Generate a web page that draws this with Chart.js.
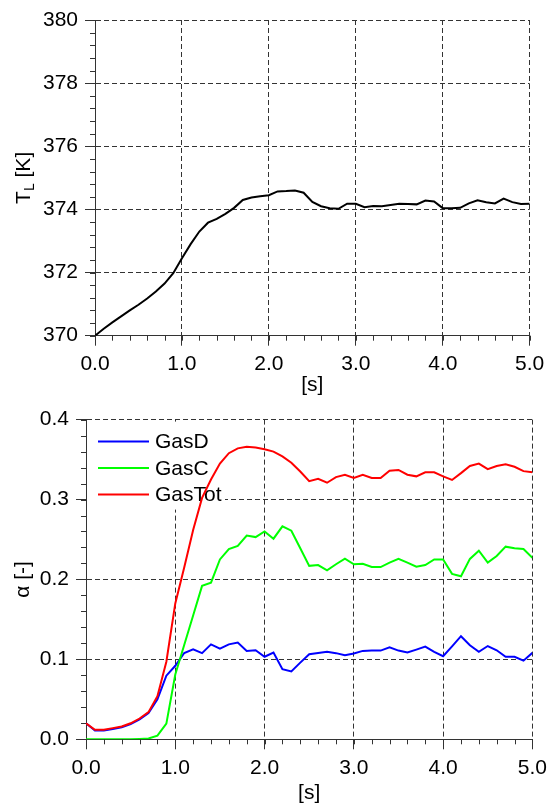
<!DOCTYPE html>
<html>
<head>
<meta charset="utf-8">
<script src="https://cdn.jsdelivr.net/npm/chart.js@4.4.0/dist/chart.umd.min.js"></script>
<style>
html, body { margin: 0; padding: 0; background: #fff; }
#wrap { position: relative; width: 553px; height: 806px; }
.box { position: absolute; left: 0; width: 553px; }
</style>
</head>
<body>
<div id="wrap">
  <div class="box" style="top:0;height:400px"><canvas id="tempChart" width="553" height="400"></canvas></div>
  <div class="box" style="top:400px;height:406px"><canvas id="gasChart" width="553" height="406"></canvas></div>
</div>
<script>
// time axis [s]
const times = [0.0, 0.1, 0.2, 0.3, 0.4, 0.5, 0.6, 0.7, 0.8, 0.9,
  1.0, 1.1, 1.2, 1.3, 1.4, 1.5, 1.6, 1.7, 1.8, 1.9,
  2.0, 2.1, 2.2, 2.3, 2.4, 2.5, 2.6, 2.7, 2.8, 2.9,
  3.0, 3.1, 3.2, 3.3, 3.4, 3.5, 3.6, 3.7, 3.8, 3.9,
  4.0, 4.1, 4.2, 4.3, 4.4, 4.5, 4.6, 4.7, 4.8, 4.9, 5.0];

// liquid temperature T_L [K]
const tempL = [370.00, 370.22, 370.42, 370.61, 370.80, 370.98, 371.18, 371.40, 371.65, 371.98,
  372.45, 372.90, 373.30, 373.58, 373.70, 373.86, 374.05, 374.30, 374.38, 374.42,
  374.45, 374.57, 374.58, 374.60, 374.53, 374.24, 374.10, 374.04, 374.02, 374.18,
  374.18, 374.07, 374.11, 374.10, 374.14, 374.18, 374.17, 374.16, 374.28, 374.25,
  374.04, 374.04, 374.05, 374.19, 374.29, 374.23, 374.19, 374.34, 374.23, 374.17, 374.18];

// gas fractions alpha [-]
const gasD = [0.020, 0.011, 0.011, 0.013, 0.015, 0.019, 0.025, 0.033, 0.050, 0.0796,
  0.092, 0.108, 0.1127, 0.1078, 0.1188, 0.1135, 0.1188, 0.121, 0.1106, 0.1114,
  0.1033, 0.1086, 0.0878, 0.0849, 0.0959, 0.1065, 0.108, 0.1094, 0.1078, 0.1053,
  0.1073, 0.1106, 0.111, 0.111, 0.115, 0.111, 0.1086, 0.1122, 0.116, 0.1094,
  0.104, 0.1163, 0.129, 0.1176, 0.1094, 0.1167, 0.1114, 0.1033, 0.1033, 0.0984, 0.1082];
const gasC = [0, 0, 0, 0, 0, 0, 0.0005, 0.001, 0.0045, 0.0196,
  0.081, 0.118, 0.155, 0.192, 0.196, 0.225, 0.238, 0.242, 0.255, 0.253,
  0.260, 0.251, 0.2665, 0.261, 0.239, 0.217, 0.218, 0.2115, 0.219, 0.226,
  0.219, 0.2195, 0.2155, 0.2155, 0.221, 0.2257, 0.221, 0.216, 0.218, 0.225,
  0.225, 0.207, 0.204, 0.2257, 0.236, 0.221, 0.2294, 0.241, 0.239, 0.238, 0.227];
const gasTot = [0.020, 0.012, 0.012, 0.014, 0.016, 0.020, 0.026, 0.034, 0.054, 0.097,
  0.170, 0.215, 0.262, 0.302, 0.325, 0.345, 0.358, 0.364, 0.366, 0.365,
  0.363, 0.360, 0.354, 0.346, 0.335, 0.323, 0.326, 0.321, 0.328, 0.331,
  0.327, 0.331, 0.327, 0.327, 0.336, 0.337, 0.331, 0.329, 0.334, 0.334,
  0.329, 0.3245, 0.333, 0.342, 0.345, 0.338, 0.342, 0.344, 0.341, 0.3355, 0.334];

const seriesNames = ['GasD', 'GasC', 'GasTot'];
const seriesColors = ['#0000ff', '#00ff00', '#ff0000'];

const FONT = '"Liberation Sans", Arial, sans-serif';
Chart.defaults.font.family = FONT;
Chart.defaults.font.size = 21;
Chart.defaults.color = '#000';

const toXY = (ys) => times.map((t, i) => ({ x: t, y: ys[i] }));

// minor ticks on both axes (outside the plot)
const minorTicks = {
  id: 'minorTicks',
  afterDraw(chart, args, o) {
    const { ctx, scales: { x, y } } = chart;
    ctx.save();
    ctx.strokeStyle = '#333';
    ctx.lineWidth = 1;
    ctx.beginPath();
    let n = Math.round((x.max - x.min) / o.xStep);
    for (let i = 0; i <= n; i++) {
      const px = Math.round(x.getPixelForValue(x.min + i * o.xStep)) + 0.5;
      ctx.moveTo(px, x.top);
      ctx.lineTo(px, x.top + 5);
    }
    n = Math.round((y.max - y.min) / o.yStep);
    for (let i = 0; i <= n; i++) {
      const py = Math.round(y.getPixelForValue(y.min + i * o.yStep)) + 0.5;
      ctx.moveTo(y.right, py);
      ctx.lineTo(y.right - 5, py);
    }
    ctx.stroke();
    ctx.restore();
  }
};

// axis titles, y title may carry a subscript part
const axisTitles = {
  id: 'axisTitles',
  afterDraw(chart, args, o) {
    const { ctx, chartArea: a } = chart;
    ctx.save();
    ctx.fillStyle = '#000';
    ctx.font = '21px ' + FONT;
    ctx.textAlign = 'center';
    ctx.textBaseline = 'middle';
    ctx.fillText(o.xTitle, (a.left + a.right) / 2, o.xTitleY);

    ctx.translate(o.yTitleX, (a.top + a.bottom) / 2);
    ctx.rotate(-Math.PI / 2);
    ctx.textAlign = 'left';
    const fontOf = (p) => (p.sub ? '14px ' : '21px ') + FONT;
    let total = 0;
    o.yParts.forEach(p => { ctx.font = fontOf(p); total += ctx.measureText(p.text).width; });
    let cx = -total / 2;
    o.yParts.forEach(p => {
      ctx.font = fontOf(p);
      ctx.fillText(p.text, cx, p.sub ? 6 : 0);
      cx += ctx.measureText(p.text).width;
    });
    ctx.restore();
  }
};

// legend box inside the plot: above the grid, below the curves
const gasLegend = {
  id: 'gasLegend',
  beforeDatasetsDraw(chart) {
    const { ctx, chartArea: a } = chart;
    ctx.save();
    ctx.fillStyle = '#fff';
    ctx.fillRect(a.left + 1, a.top + 2, 138, 88);
    ctx.font = '21px ' + FONT;
    ctx.textBaseline = 'middle';
    ctx.textAlign = 'left';
    seriesNames.forEach((name, i) => {
      const yy = a.top + 22 + i * 26.5;
      ctx.strokeStyle = seriesColors[i];
      ctx.lineWidth = 2;
      ctx.beginPath();
      ctx.moveTo(a.left + 12, yy);
      ctx.lineTo(a.left + 63, yy);
      ctx.stroke();
      ctx.fillStyle = '#000';
      ctx.fillText(name, a.left + 69, yy + 1);
    });
    ctx.restore();
  }
};

function axisX(h) {
  return {
    type: 'linear', min: 0, max: 5,
    afterFit(s) { s.height = h; },
    ticks: { stepSize: 1, padding: 6, color: '#000', callback: v => v.toFixed(1) },
    grid: { color: '#333', lineWidth: 1, tickLength: 10, tickColor: '#333', tickBorderDash: [] },
    border: { display: true, color: '#333', width: 1, dash: [5, 3] }
  };
}
function axisY(min, max, step, w, digits) {
  return {
    min: min, max: max,
    afterFit(s) { s.width = w; },
    ticks: { stepSize: step, padding: 7, color: '#000', callback: v => v.toFixed(digits) },
    grid: { color: '#333', lineWidth: 1, tickLength: 10, tickColor: '#333', tickBorderDash: [] },
    border: { display: true, color: '#333', width: 1, dash: [5, 3] }
  };
}

new Chart(document.getElementById('tempChart').getContext('2d'), {
  type: 'line',
  data: {
    datasets: [{
      label: 'T_L',
      data: toXY(tempL),
      borderColor: '#000',
      borderWidth: 2,
      pointRadius: 0,
      fill: false,
      tension: 0
    }]
  },
  options: {
    responsive: false,
    animation: false,
    layout: { padding: { top: 20, right: 23.3, left: 0, bottom: 0 } },
    scales: { x: axisX(64.3), y: axisY(370, 380, 2, 95, 0) },
    plugins: {
      legend: { display: false },
      tooltip: { enabled: false },
      minorTicks: { xStep: 0.2, yStep: 0.4 },
      axisTitles: { xTitle: '[s]', xTitleY: 385, yTitleX: 24,
        yParts: [{ text: 'T' }, { text: 'L', sub: true }, { text: ' [K]' }] }
    }
  },
  plugins: [minorTicks, axisTitles]
});

const gasValues = [gasD, gasC, gasTot];
new Chart(document.getElementById('gasChart').getContext('2d'), {
  type: 'line',
  data: {
    datasets: seriesNames.map((name, i) => ({
      label: name,
      data: toXY(gasValues[i]),
      borderColor: seriesColors[i],
      borderWidth: 2,
      pointRadius: 0,
      fill: false,
      tension: 0,
      order: 2 - i
    }))
  },
  options: {
    responsive: false,
    animation: false,
    layout: { padding: { top: 12.7, right: 16.3, left: 0, bottom: 0 } },
    scales: { x: axisX(66.7), y: axisY(0, 0.4, 0.1, 86, 1) },
    plugins: {
      legend: { display: false },
      tooltip: { enabled: false },
      minorTicks: { xStep: 0.2, yStep: 0.02 },
      axisTitles: { xTitle: '[s]', xTitleY: 393, yTitleX: 23,
        yParts: [{ text: '\u03b1 [-]' }] }
    }
  },
  plugins: [minorTicks, axisTitles, gasLegend]
});
</script>
</body>
</html>
